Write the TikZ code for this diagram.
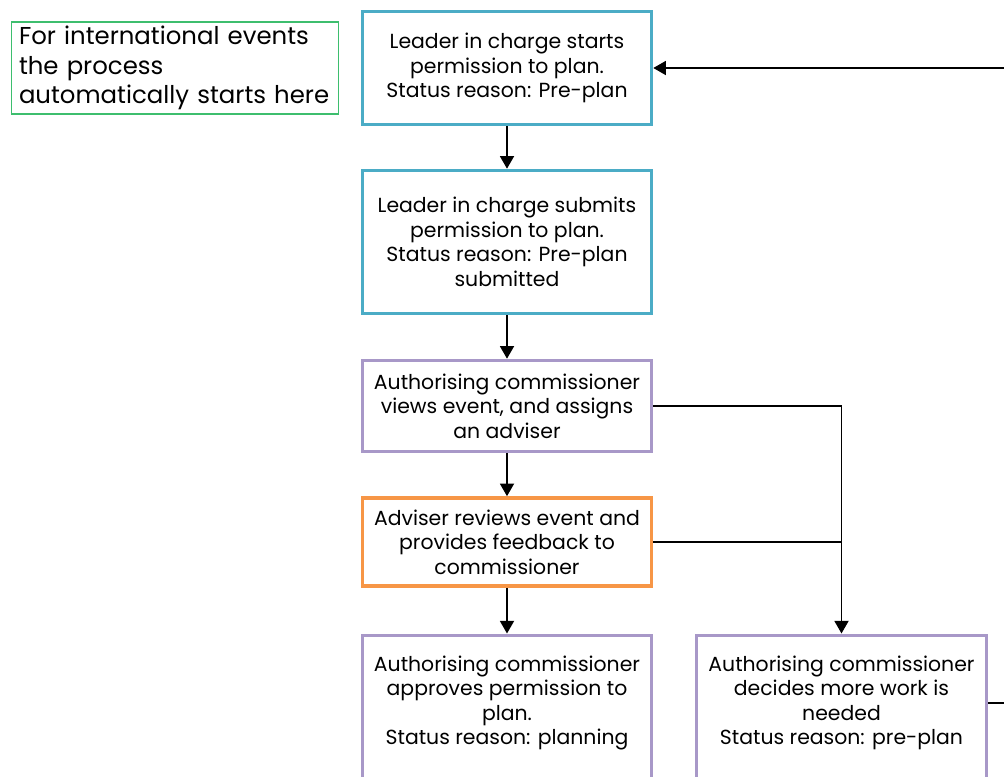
\documentclass[tikz,border=0pt]{standalone}
\usepackage{fontspec}
\setmainfont{Poppins}
\usetikzlibrary{arrows.meta}
\definecolor{tealc}{HTML}{4BACC6}
\definecolor{purplec}{HTML}{A898C8}
\definecolor{orangec}{HTML}{F79646}
\definecolor{greenc}{HTML}{3DBE6E}
\newlength{\unitpx}
\setlength{\unitpx}{0.75pt}
\tikzset{
  boxfont/.style={font=\fontsize{15.3}{18.4}\selectfont},
  box/.style={draw, line width=2.7pt, minimum width=289\unitpx, align=center,
    inner sep=0pt, boxfont},
  tealbox/.style={box, draw=tealc},
  purplebox/.style={box, draw=purplec},
  orangebox/.style={box, draw=orangec},
  notebox/.style={draw=greenc, line width=1pt, minimum width=327\unitpx, minimum height=92\unitpx,
    align=left, inner sep=0pt, text width=312\unitpx, font=\fontsize{18.3}{22.1}\selectfont},
  conn/.style={line width=1.4pt, -{Triangle[width=10.5pt,length=9.5pt]}},
  plain/.style={line width=1.4pt}
}
\begin{document}
\begin{tikzpicture}[x=0.75pt, y=-0.75pt]
\useasboundingbox (0,0) rectangle (1004,776);
\clip (0,0) rectangle (1004,776);
\fill[white] (0,0) rectangle (1004,776);
\node[notebox] (note) at (175,68) {For international events\\the process\\automatically starts here};
\node[tealbox, minimum height=113\unitpx] (b1) at (507,68) {Leader in charge starts\\permission to plan.\\Status reason: Pre-plan};
\node[tealbox, minimum height=143\unitpx] (b2) at (507,242) {Leader in charge submits\\permission to plan.\\Status reason: Pre-plan\\submitted};
\node[purplebox, minimum height=91\unitpx] (b3) at (507,406) {Authorising commissioner\\views event, and assigns\\an adviser};
\node[orangebox, minimum height=88\unitpx] (b4) at (507,542) {Adviser reviews event and\\provides feedback to\\commissioner};
\node[purplebox, minimum height=160\unitpx, anchor=north] (b5) at (507,633.5) {};
\node[align=center, boxfont] (t5) at (507,703) {Authorising commissioner\\approves permission to\\plan.\\Status reason: planning};
\node[purplebox, minimum width=290\unitpx, minimum height=160\unitpx, anchor=north] (b6) at (841.5,633.5) {};
\node[align=center, boxfont] (t6) at (841.5,703) {Authorising commissioner\\decides more work is\\needed\\Status reason: pre-plan};
\coordinate (j) at (841,542);
\coordinate (loopR) at (1030,703);
\draw[conn] (b1) -- (b2);
\draw[conn] (b2) -- (b3);
\draw[conn] (b3) -- (b4);
\draw[conn] (b4) -- (b5);
\draw[conn] (b3.east) -| (b6.north);
\draw[plain] (b4.east) -- (j);
\draw[conn] (b6.east |- 0,703) -- (loopR) |- (b1.east);
\end{tikzpicture}
\end{document}
